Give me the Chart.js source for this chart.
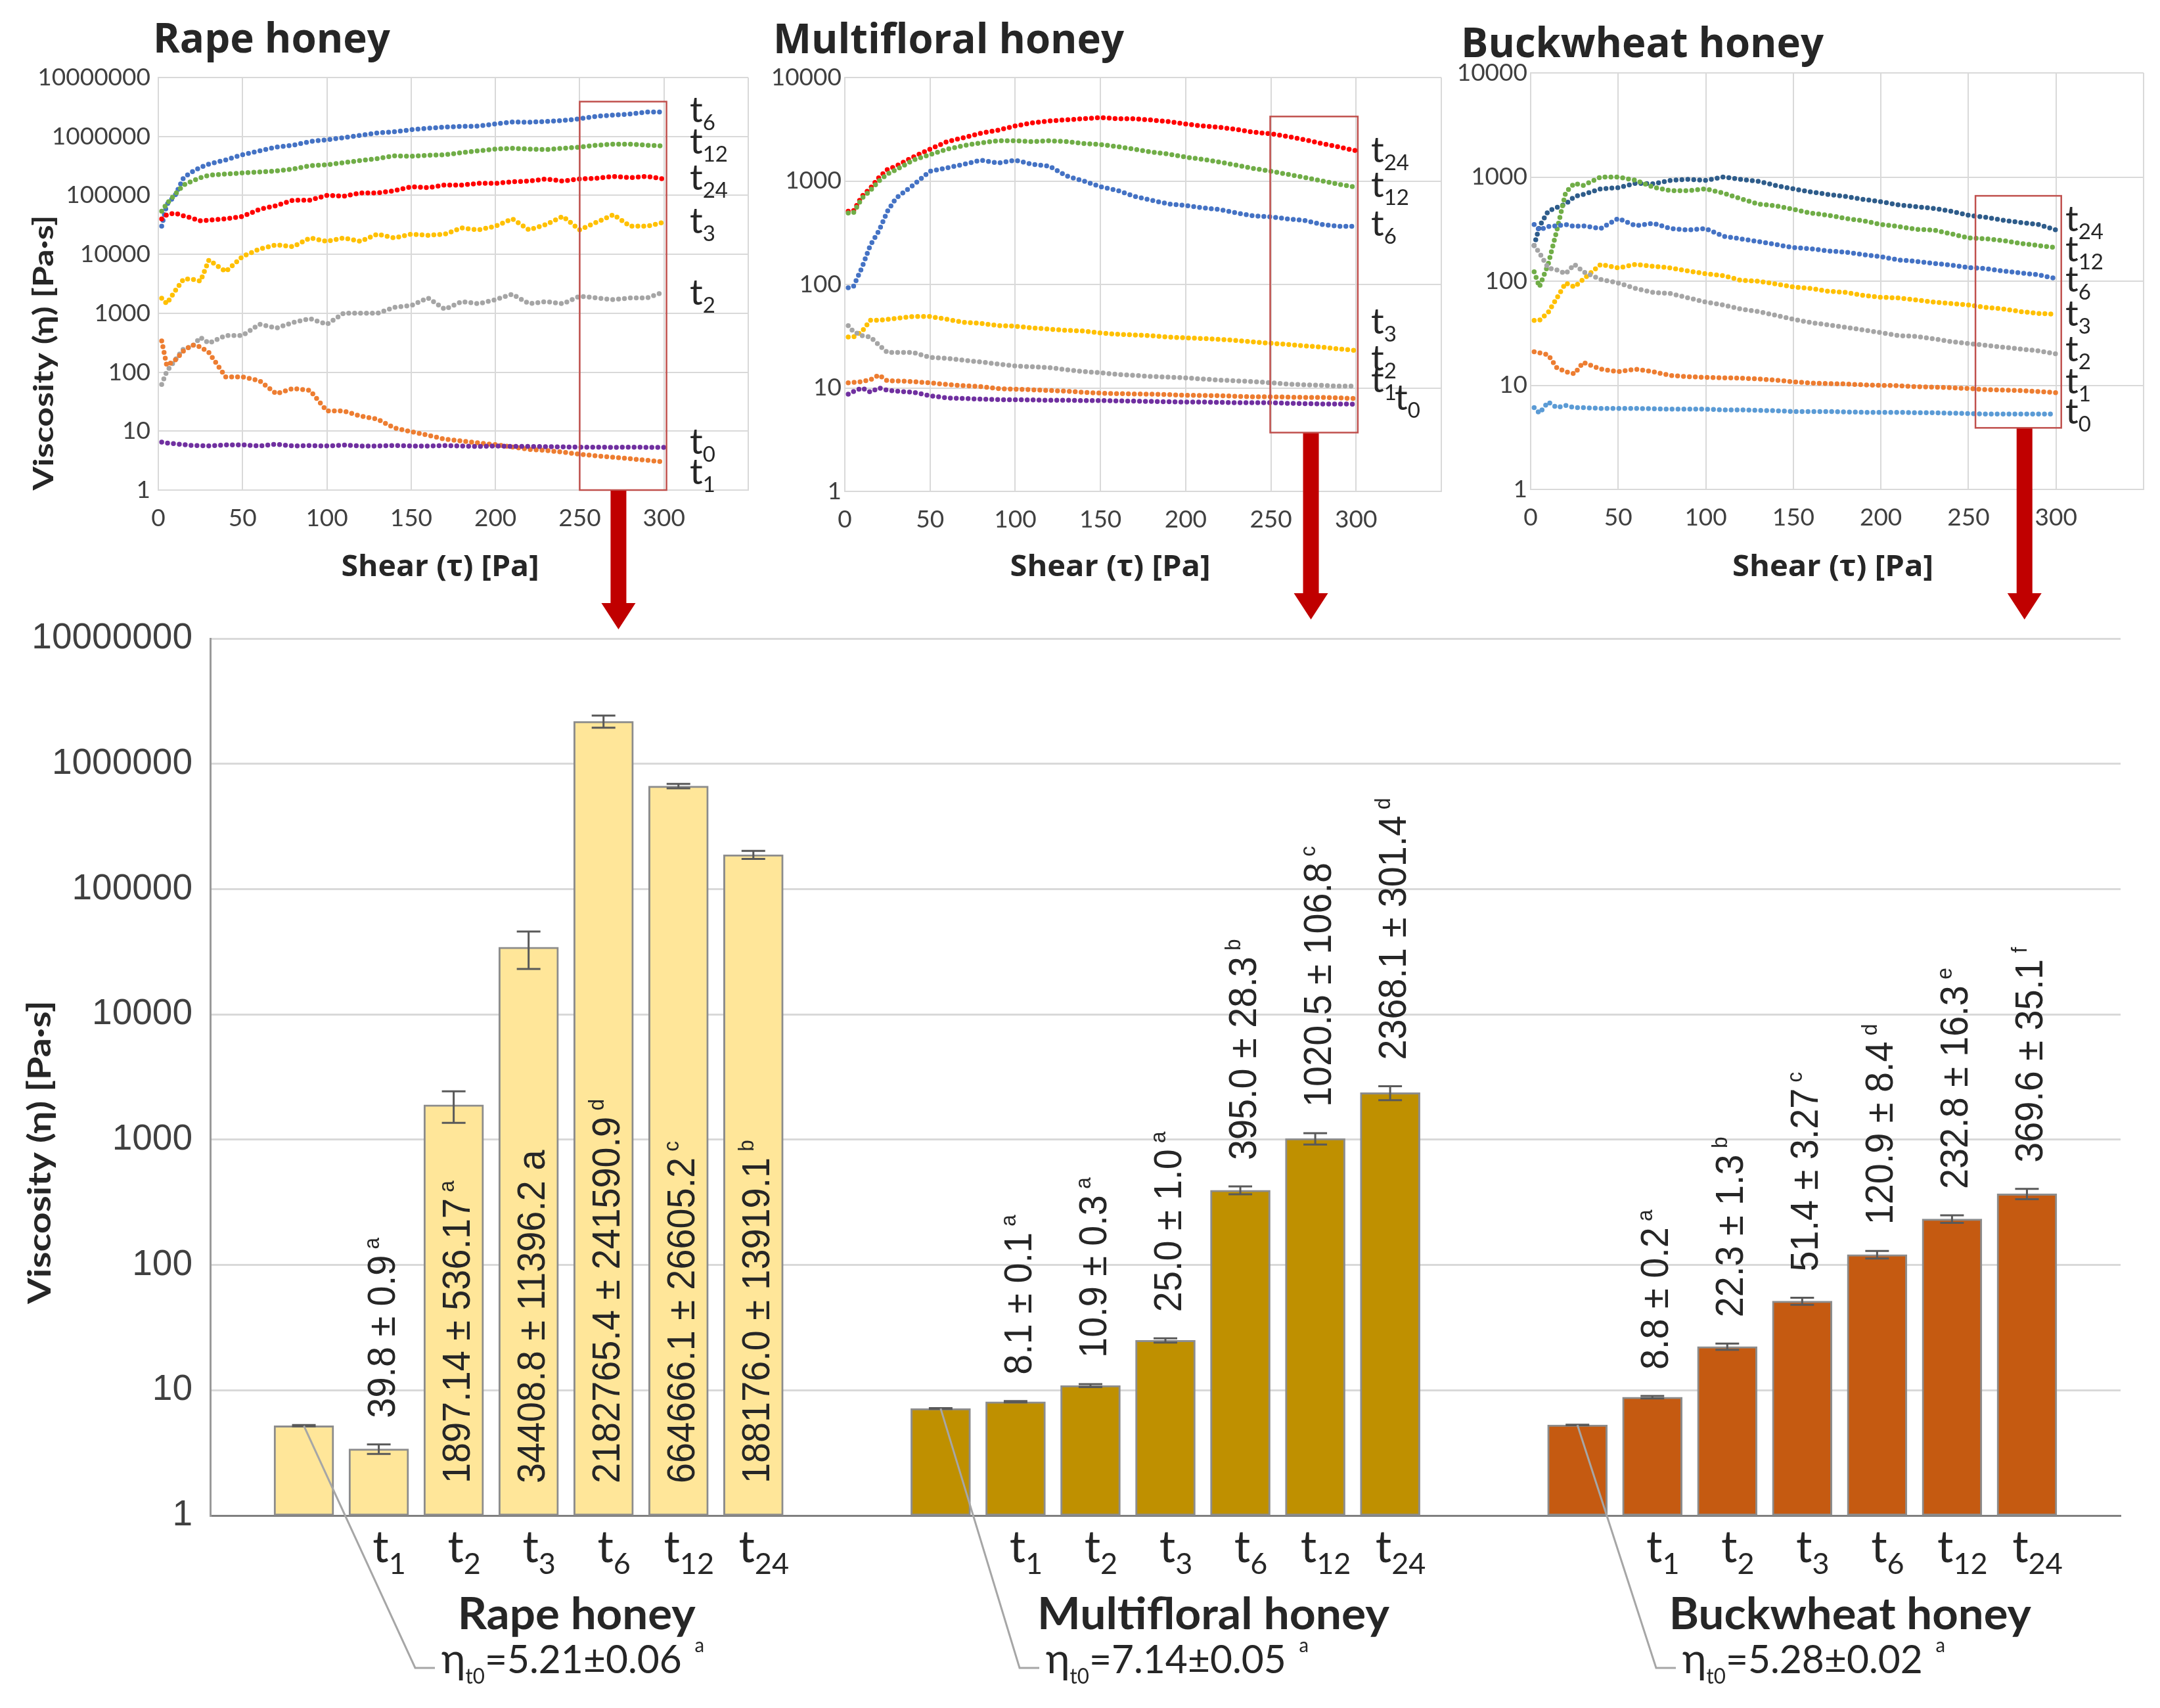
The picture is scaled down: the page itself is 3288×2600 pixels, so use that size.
<!DOCTYPE html>
<html><head><meta charset="utf-8">
<script src="https://cdn.jsdelivr.net/npm/chart.js@4.4.1/dist/chart.umd.min.js"></script>
<style>
html,body{margin:0;padding:0;background:#fff;}
#wrap{position:relative;width:3288px;height:2600px;overflow:hidden;background:#fff;}
canvas{position:absolute;}
</style></head>
<body><div id="wrap">
<canvas id="cBar" width="3288" height="1688" style="left:0px;top:912px;width:3288px;height:1688px"></canvas>
<canvas id="cRape" width="1160" height="970" style="left:0px;top:0px;width:1160px;height:970px"></canvas>
<canvas id="cMulti" width="1055" height="970" style="left:1160px;top:0px;width:1055px;height:970px"></canvas>
<canvas id="cBuck" width="1093" height="970" style="left:2195px;top:0px;width:1093px;height:970px"></canvas>
</div>
<script>
// ---------------- DATA ----------------
const shear = [2,5,10,15,20,25,30,40,50,60,70,80,90,100,110,120,130,140,150,160,170,180,190,200,210,220,230,240,250,260,270,280,290,300];
const shearTicks = [0,50,100,150,200,250,300,350];
const rapeTicks = [1,10,100,1000,10000,100000,1000000,10000000];
const multiTicks = [1,10,100,1000,10000];
const buckTicks = [1,10,100,1000,10000];

// Rape honey viscosity curves
const rape_t6 = [3.0e4,7.0e4,1.0e5,2.0e5,2.5e5,3.0e5,3.4e5,4.0e5,4.9e5,5.7e5,6.6e5,7.1e5,8.2e5,8.8e5,9.5e5,1.05e6,1.15e6,1.2e6,1.3e6,1.38e6,1.44e6,1.48e6,1.5e6,1.63e6,1.76e6,1.74e6,1.8e6,1.86e6,2.0e6,2.2e6,2.3e6,2.4e6,2.6e6,2.6e6];
const rape_t12 = [5.4e4,7.2e4,1.05e5,1.5e5,1.75e5,2.0e5,2.2e5,2.3e5,2.4e5,2.5e5,2.6e5,2.8e5,3.2e5,3.3e5,3.6e5,3.9e5,4.2e5,4.7e5,4.6e5,4.8e5,4.9e5,5.3e5,5.7e5,6.1e5,6.3e5,6.1e5,6.0e5,6.3e5,6.6e5,7.1e5,7.4e5,7.4e5,7.1e5,6.9e5];
const rape_t24 = [4.0e4,4.7e4,5.0e4,4.5e4,4.1e4,3.7e4,3.8e4,4.0e4,4.4e4,5.8e4,6.7e4,8.3e4,8.3e4,1.0e5,9.7e4,1.1e5,1.1e5,1.2e5,1.4e5,1.35e5,1.5e5,1.5e5,1.6e5,1.6e5,1.7e5,1.75e5,1.9e5,1.75e5,1.9e5,1.95e5,2.1e5,2.0e5,2.1e5,1.9e5];
const rape_t3 = [1800,1450,2400,3800,3800,3500,8000,5100,9200,12300,14500,13500,19000,16600,19000,16600,22000,19000,22000,21000,22000,28000,26000,30000,40000,26000,32000,44000,26000,35000,47000,30000,30000,35000];
const rape_t2 = [62,103,160,250,270,390,310,420,420,650,560,700,810,650,1000,1000,1000,1260,1350,1820,1170,1580,1450,1700,2100,1450,1580,1450,1950,1820,1700,1820,1820,2300];
const rape_t1 = [340,130,160,230,290,270,215,83,83,72,43,53,49,22,22,18,16,11.3,9.8,8.5,7.3,6.8,6.3,5.9,5.4,4.9,4.7,4.4,4.06,3.8,3.6,3.4,3.2,3.0];
const rape_t0 = [6.5,6.3,6.1,5.9,5.7,5.7,5.6,5.85,5.85,5.6,6.0,5.6,5.7,5.6,5.8,5.6,5.6,5.7,5.6,5.6,5.7,5.6,5.5,5.6,5.5,5.5,5.45,5.4,5.35,5.35,5.3,5.35,5.3,5.3];

// Multifloral honey viscosity curves
const multi_t24 = [510,510,710,850,1080,1290,1390,1700,2030,2400,2630,2900,3100,3400,3650,3800,3900,4000,4100,4000,4000,3880,3750,3550,3400,3300,3150,2960,2860,2690,2500,2300,2130,1960];
const multi_t12 = [490,490,680,810,1000,1170,1280,1590,1800,2030,2200,2340,2450,2450,2400,2450,2400,2300,2250,2150,2030,1900,1820,1700,1620,1520,1420,1320,1240,1160,1080,1000,930,870];
const multi_t6 = [93,95,145,240,330,510,680,910,1240,1340,1450,1590,1490,1590,1450,1390,1120,1000,880,810,710,650,600,580,550,530,490,460,450,430,415,380,365,365];
const multi_t3 = [31,31,35,45,45,46,47,49,49,46,43,42,40,39.5,38,37,36,35.5,34,33,32.5,32,31,30.5,30,29.5,28.7,27.8,27,26.3,25.5,24.8,23.8,23];
const multi_t2 = [40,35,32,31,26,22,22,22,19.7,19.3,18.5,17.8,17,16.3,16,15.7,15,14.4,14,13.5,13.2,12.9,12.7,12.5,12.2,11.9,11.7,11.5,11.2,10.9,10.7,10.6,10.4,10.4];
const multi_t1 = [11.2,11.3,11.5,12,13.3,11.7,11.7,11.5,11.2,10.8,10.5,10.3,9.85,9.7,9.6,9.45,9.3,9.07,8.9,8.8,8.75,8.7,8.6,8.5,8.45,8.4,8.3,8.2,8.2,8.15,8.1,8.1,8.0,7.9];
const multi_t0 = [8.7,9.2,10,9.1,10,9.5,9.3,9.1,8.4,8.0,7.9,7.8,7.7,7.7,7.65,7.6,7.6,7.55,7.55,7.5,7.45,7.4,7.35,7.3,7.3,7.25,7.2,7.2,7.2,7.1,7.05,7.0,7.0,6.95];

// Buckwheat honey viscosity curves
const buck_t24 = [220,335,470,510,550,650,680,770,790,870,860,930,950,930,1000,950,910,830,770,720,680,650,610,580,540,520,500,470,430,410,385,365,350,310];
const buck_t12 = [123,88,145,310,710,870,830,1000,1000,930,800,740,740,770,700,620,550,530,490,450,430,400,380,350,335,315,310,285,260,255,245,230,220,210];
const buck_t6 = [350,310,335,340,350,335,340,320,400,340,360,320,310,320,270,255,240,225,210,205,195,190,180,172,160,155,148,143,135,132,125,120,115,106];
const buck_t3 = [42,42,50,69,96,88,104,145,134,145,139,134,125,118,113,102,100,94,88,85,80,78,73,70,69,66,63,61,59,56,54,51,49,48];
const buck_t2 = [220,187,134,128,118,145,123,104,96,85,78,76,69,63,59,54,51,47,43,40,38,36,34,32,30,29.5,28,26.3,25.2,24.2,23.2,22.3,21.4,20];
const buck_t1 = [21,20.5,19.6,14.7,13.5,12.9,16.6,14.3,13.5,14.3,13.5,12.4,12.1,11.9,11.8,11.7,11.5,11.2,10.8,10.5,10.4,10.3,10.1,10,9.9,9.7,9.6,9.5,9.3,9.1,9.0,8.9,8.7,8.5];
const buck_t0 = [6.1,5.4,6.9,6.1,6.4,6.1,6.1,6.0,6.0,6.0,5.95,5.9,5.9,5.9,5.8,5.8,5.75,5.7,5.6,5.6,5.6,5.55,5.5,5.5,5.5,5.45,5.45,5.4,5.35,5.3,5.3,5.3,5.3,5.3];

// Bar chart (mean viscosity at t0..t24)
const timeKeys = ['0','1','2','3','6','12','24'];
const groupNames = ['Rape honey','Multifloral honey','Buckwheat honey'];
const rapeMean = [5.21,3.4,1897.14,34408.8,2182765.4,664666.1,188176.0];
const rapeSD = [0.06,0.3,536.17,11396.2,241590.9,26605.2,13919.1];
const multiMean = [7.14,8.1,10.9,25.0,395.0,1020.5,2368.1];
const multiSD = [0.05,0.1,0.3,1.0,28.3,106.8,301.4];
const buckMean = [5.28,8.8,22.3,51.4,120.9,232.8,369.6];
const buckSD = [0.02,0.2,1.3,3.27,8.4,16.3,35.1];
const rapeText = ['','39.8 ± 0.9','1897.14 ± 536.17','34408.8 ± 11396.2 a','2182765.4 ± 241590.9','664666.1 ± 26605.2','188176.0 ± 13919.1'];
const rapeLetter = ['a','a','a','','d','c','b'];
const multiText = ['','8.1 ± 0.1','10.9 ± 0.3','25.0 ± 1.0','395.0 ± 28.3','1020.5 ± 106.8','2368.1 ± 301.4'];
const multiLetter = ['a','a','a','a','b','c','d'];
const buckText = ['','8.8 ± 0.2','22.3 ± 1.3','51.4 ± 3.27','120.9 ± 8.4','232.8 ± 16.3','369.6 ± 35.1'];
const buckLetter = ['a','a','b','c','d','e','f'];
const etaText = ['5.21±0.06','7.14±0.05','5.28±0.02'];
const barTicks = [1,10,100,1000,10000,100000,1000000,10000000];

// ---------------- HELPERS ----------------
const FAM_TOP = "Lato, 'Open Sans', sans-serif";
const FAM_TITLE = "'Open Sans', Lato, sans-serif";
const FAM_BAR = "'Liberation Sans', Arial, sans-serif";
const TXT = '#262626';
function F(size, fam, w){ return (w || 'normal') + ' ' + size + 'px ' + fam; }
function richWidth(ctx, parts){
  let w = 0;
  for (const p of parts){ ctx.font = p.font; w += (p.pre || 0) + ctx.measureText(p.text).width; }
  return w;
}
function drawRich(ctx, x, y, parts, opt){
  opt = opt || {};
  ctx.save();
  ctx.translate(x, y);
  if (opt.rotate) ctx.rotate(opt.rotate);
  const w = richWidth(ctx, parts);
  let s = opt.width ? opt.width / w : (opt.sx || 1);
  ctx.scale(s, 1);
  let cx = opt.align === 'center' ? -w / 2 : (opt.align === 'right' ? -w : 0);
  ctx.textAlign = 'left'; ctx.textBaseline = 'alphabetic';
  ctx.fillStyle = opt.color || TXT;
  for (const p of parts){
    ctx.font = p.font;
    cx += (p.pre || 0);
    ctx.fillText(p.text, cx, (p.dy || 0) + (opt.dy || 0));
    cx += ctx.measureText(p.text).width;
  }
  ctx.restore();
}

// ---------------- TOP SCATTER CHARTS ----------------
function makeTop(id, cfg){
  const datasets = cfg.series.map(s => ({
    label: 't' + s.key,
    data: shear.map((x, i) => ({x: x, y: s.values[i]})),
    borderColor: s.color, backgroundColor: s.color,
    borderWidth: 7.5, borderDash: [0, 9], borderCapStyle: 'round', borderJoinStyle: 'round',
    pointRadius: 0, tension: 0, fill: false
  }));
  const deco = {
    id: 'deco' + id,
    afterDraw(chart){
      const ctx = chart.ctx, xs = chart.scales.x, ys = chart.scales.y, L = cfg.left;
      drawRich(ctx, cfg.title.x - L, cfg.title.y, [{text: cfg.title.text, font: F(62, FAM_TITLE, 'bold')}], {width: cfg.title.w});
      drawRich(ctx, cfg.xTitle.x - L, cfg.xTitle.y, [{text: 'Shear (τ) [Pa]', font: F(44, FAM_TITLE, 'bold')}], {align: 'center', width: cfg.xTitle.w});
      if (cfg.yTitle){
        drawRich(ctx, cfg.yTitle.x - L, cfg.yTitle.y, [{text: 'Viscosity (η) [Pa·s]', font: F(42, FAM_TOP, 'bold')}],
          {align: 'center', rotate: -Math.PI / 2, width: cfg.yTitle.w, dy: 15});
      }
      cfg.tags.forEach(t => {
        drawRich(ctx, t[1] - L, t[2], [{text: 't', font: F(55, FAM_TOP)}, {text: t[0], font: F(33, FAM_TOP), dy: 12}], {color: '#262626'});
      });
      const b = cfg.box;
      const bx0 = xs.getPixelForValue(b.x0), bx1 = xs.getPixelForValue(b.x1);
      const by0 = ys.getPixelForValue(b.y0), by1 = ys.getPixelForValue(b.y1);
      ctx.save();
      ctx.strokeStyle = '#C0504D'; ctx.lineWidth = 2.5;
      ctx.strokeRect(bx0, by1, bx1 - bx0, by0 - by1);
      const ax = xs.getPixelForValue(cfg.arrow.x), tip = cfg.arrow.tip, top = by0 + 1;
      ctx.fillStyle = '#C00000';
      ctx.beginPath();
      ctx.moveTo(ax - 12, top); ctx.lineTo(ax + 12, top); ctx.lineTo(ax + 12, tip - 40);
      ctx.lineTo(ax + 26, tip - 40); ctx.lineTo(ax, tip); ctx.lineTo(ax - 26, tip - 40);
      ctx.lineTo(ax - 12, tip - 40); ctx.closePath(); ctx.fill();
      ctx.restore();
    }
  };
  return new Chart(document.getElementById(id), {
    type: 'line',
    data: {datasets},
    options: {
      responsive: false, animation: false, devicePixelRatio: 1,
      layout: {padding: cfg.padding},
      plugins: {legend: {display: false}, tooltip: {enabled: false}, title: {display: false}},
      scales: {
        x: {type: 'linear', min: 0, max: 350,
          afterBuildTicks: a => { a.ticks = shearTicks.map(v => ({value: v})); },
          afterFit: a => { a.height = 150; },
          ticks: {padding: 21, maxRotation: 0, autoSkip: false, font: {family: FAM_TOP, size: 37}, color: '#404040',
            callback: v => (v <= 300 ? String(v) : '')},
          grid: {color: '#d9d9d9', lineWidth: 2, drawTicks: false},
          border: {color: '#d9d9d9', width: 2}},
        y: {type: 'logarithmic', min: 1, max: cfg.yTicks[cfg.yTicks.length - 1],
          afterBuildTicks: a => { a.ticks = cfg.yTicks.map(v => ({value: v})); },
          afterFit: a => { a.width = cfg.yWidth; },
          ticks: {padding: cfg.yPad, autoSkip: false, font: {family: FAM_TOP, size: 37}, color: '#404040',
            callback: v => String(v)},
          grid: {color: '#d9d9d9', lineWidth: 2, drawTicks: false},
          border: {color: '#d9d9d9', width: 2}}
      }
    },
    plugins: [deco]
  });
}

makeTop('cRape', {
  left: 0, yWidth: 241, yPad: 12, yTicks: rapeTicks,
  padding: {left: 0, top: 118, right: 0, bottom: 74},
  series: [
    {key: '0', values: rape_t0, color: '#7030A0'},
    {key: '1', values: rape_t1, color: '#ED7D31'},
    {key: '2', values: rape_t2, color: '#A5A5A5'},
    {key: '3', values: rape_t3, color: '#FFC000'},
    {key: '24', values: rape_t24, color: '#FF0000'},
    {key: '12', values: rape_t12, color: '#70AD47'},
    {key: '6', values: rape_t6, color: '#4472C4'}
  ],
  title: {text: 'Rape honey', x: 233, y: 80, w: 361},
  xTitle: {x: 670, y: 877, w: 301},
  yTitle: {x: 66, y: 537, w: 419},
  tags: [['6', 1050, 186], ['12', 1050, 234], ['24', 1050, 289], ['3', 1050, 355], ['2', 1050, 464], ['0', 1050, 691], ['1', 1050, 737]],
  box: {x0: 250, x1: 301.5, y0: 1, y1: 3.9e6},
  arrow: {x: 273, tip: 958}
});

makeTop('cMulti', {
  left: 1160, yWidth: 126, yPad: 5, yTicks: multiTicks,
  padding: {left: 0, top: 118, right: 5, bottom: 72},
  series: [
    {key: '0', values: multi_t0, color: '#7030A0'},
    {key: '1', values: multi_t1, color: '#ED7D31'},
    {key: '2', values: multi_t2, color: '#A5A5A5'},
    {key: '3', values: multi_t3, color: '#FFC000'},
    {key: '6', values: multi_t6, color: '#4472C4'},
    {key: '12', values: multi_t12, color: '#70AD47'},
    {key: '24', values: multi_t24, color: '#FF0000'}
  ],
  title: {text: 'Multifloral honey', x: 1177, y: 81, w: 534},
  xTitle: {x: 1690, y: 877, w: 305},
  yTitle: null,
  tags: [['24', 2087, 247], ['12', 2087, 300], ['6', 2087, 359], ['3', 2087, 508], ['2', 2087, 564], ['1', 2087, 597], ['0', 2123, 624]],
  box: {x0: 249.6, x1: 301, y0: 3.7, y1: 4200},
  arrow: {x: 273.5, tip: 943}
});

makeTop('cBuck', {
  left: 2195, yWidth: 135, yPad: 5, yTicks: buckTicks,
  padding: {left: 0, top: 111, right: 25, bottom: 75},
  series: [
    {key: '0', values: buck_t0, color: '#5B9BD5'},
    {key: '1', values: buck_t1, color: '#ED7D31'},
    {key: '2', values: buck_t2, color: '#A5A5A5'},
    {key: '3', values: buck_t3, color: '#FFC000'},
    {key: '6', values: buck_t6, color: '#4472C4'},
    {key: '12', values: buck_t12, color: '#70AD47'},
    {key: '24', values: buck_t24, color: '#2E5C8A'}
  ],
  title: {text: 'Buckwheat honey', x: 2224, y: 87, w: 552},
  xTitle: {x: 2790, y: 877, w: 306},
  yTitle: null,
  tags: [['24', 3144, 352], ['12', 3144, 398], ['6', 3144, 444], ['3', 3144, 496], ['2', 3144, 550], ['1', 3144, 599], ['0', 3144, 645]],
  box: {x0: 254, x1: 303, y0: 3.9, y1: 660},
  arrow: {x: 282, tip: 943}
});

// ---------------- BAR CHART ----------------
const slotLabels = [];
const slotOf = [];
function pushEmpty(n){ for (let i = 0; i < n; i++) slotLabels.push(''); }
pushEmpty(2);
groupNames.forEach((g, gi) => {
  slotOf[gi] = [];
  timeKeys.forEach((t, ti) => {
    if (ti > 0) pushEmpty(1);
    slotOf[gi].push(slotLabels.length);
    slotLabels.push(g + ' t' + t);
  });
  pushEmpty(gi < groupNames.length - 1 ? 4 : 2);
});
const barMeans = [rapeMean, multiMean, buckMean];
const barSDs = [rapeSD, multiSD, buckSD];
const barTexts = [rapeText, multiText, buckText];
const barLetters = [rapeLetter, multiLetter, buckLetter];
const barFill = ['#FFE699', '#BF9000', '#C55A11'];
const insideLabel = [[false, false, true, true, true, true, true], [false, false, false, false, false, false, false], [false, false, false, false, false, false, false]];
const etaStartX = [672, 1592, 2561];
const titleWidth = [362, 536, 551];
const BAR_TOP = 912;

const barDatasets = groupNames.map((g, gi) => {
  const d = slotLabels.map(() => null);
  slotOf[gi].forEach((slot, ti) => { d[slot] = barMeans[gi][ti]; });
  return {label: g, data: d, backgroundColor: barFill[gi], borderColor: '#8c8c8c', borderWidth: 3,
    borderSkipped: false, barThickness: 91, grouped: false};
});

const barDeco = {
  id: 'barDeco',
  afterDatasetsDraw(chart){
    const ctx = chart.ctx, xs = chart.scales.x, ys = chart.scales.y;
    ctx.save();
    groupNames.forEach((g, gi) => {
      const mean = barMeans[gi], sd = barSDs[gi];
      slotOf[gi].forEach((slot, ti) => {
        const cx = xs.getPixelForValue(slot);
        const yHi = ys.getPixelForValue(mean[ti] + sd[ti]);
        const yLo = ys.getPixelForValue(Math.max(mean[ti] - sd[ti], 1));
        ctx.strokeStyle = '#595959'; ctx.lineWidth = 3;
        ctx.beginPath();
        ctx.moveTo(cx, yHi); ctx.lineTo(cx, yLo);
        ctx.moveTo(cx - 18, yHi); ctx.lineTo(cx + 18, yHi);
        ctx.moveTo(cx - 18, yLo); ctx.lineTo(cx + 18, yLo);
        ctx.stroke();
        if (ti === 0) return;
        const start = insideLabel[gi][ti] ? ys.bottom - 49 : yHi - 40;
        const parts = [{text: barTexts[gi][ti], font: F(60, FAM_BAR)}];
        if (barLetters[gi][ti]) parts.push({text: barLetters[gi][ti], font: F(34, FAM_BAR), dy: -24, pre: 10});
        drawRich(ctx, cx + 3, start, parts, {rotate: -Math.PI / 2, dy: 21, sx: 0.93});
      });
    });
    ctx.restore();
  },
  afterDraw(chart){
    const ctx = chart.ctx, xs = chart.scales.x, ys = chart.scales.y;
    ctx.save();
    groupNames.forEach((g, gi) => {
      // time labels
      slotOf[gi].forEach((slot, ti) => {
        if (ti === 0) return;
        const cx = xs.getPixelForValue(slot);
        drawRich(ctx, cx + 16, 2378 - BAR_TOP, [{text: 't', font: F(68, FAM_TOP)}, {text: timeKeys[ti], font: F(45, FAM_TOP), dy: 18}], {align: 'center'});
      });
      // group title
      const c1 = xs.getPixelForValue(slotOf[gi][1]), c6 = xs.getPixelForValue(slotOf[gi][6]);
      drawRich(ctx, (c1 + c6) / 2 + 16, 2480 - BAR_TOP, [{text: g, font: F(67, FAM_TOP, 'bold')}], {align: 'center', width: titleWidth[gi]});
      // eta leader line + label
      const c0 = xs.getPixelForValue(slotOf[gi][0]);
      const y0 = ys.getPixelForValue(barMeans[gi][0]);
      const ex = etaStartX[gi], eb = 2547 - BAR_TOP;
      ctx.strokeStyle = '#a6a6a6'; ctx.lineWidth = 3;
      ctx.beginPath(); ctx.moveTo(c0, y0); ctx.lineTo(ex - 40, eb - 8); ctx.lineTo(ex - 10, eb - 8); ctx.stroke();
      drawRich(ctx, ex, eb, [
        {text: 'η', font: F(64, FAM_TOP)},
        {text: 't0', font: F(32, FAM_TOP), dy: 16},
        {text: '=' + etaText[gi], font: F(60, FAM_TOP)},
        {text: 'a', font: F(30, FAM_TOP), dy: -32, pre: 20}
      ], {width: 400});
    });
    // y title
    drawRich(ctx, 60, 1754 - BAR_TOP, [{text: 'Viscosity (η) [Pa·s]', font: F(48, FAM_TOP, 'bold')}], {align: 'center', rotate: -Math.PI / 2, width: 462, dy: 17});
    ctx.restore();
  }
};

new Chart(document.getElementById('cBar'), {
  type: 'bar',
  data: {labels: slotLabels, datasets: barDatasets},
  options: {
    responsive: false, animation: false, devicePixelRatio: 1,
    layout: {padding: {left: 0, top: 13, right: 60, bottom: 1688 - 1395 - 100}},
    plugins: {legend: {display: false}, tooltip: {enabled: false}},
    datasets: {bar: {grouped: false}},
    scales: {
      x: {type: 'category', offset: true,
        afterFit: a => { a.height = 100; },
        ticks: {display: false},
        grid: {display: false, drawTicks: false},
        border: {display: true, color: '#7f7f7f', width: 3}},
      y: {type: 'logarithmic', min: 1, max: 10000000,
        afterBuildTicks: a => { a.ticks = barTicks.map(v => ({value: v})); },
        afterFit: a => { a.width = 320; },
        ticks: {padding: 27, autoSkip: false, font: {family: FAM_BAR, size: 55}, color: '#404040', callback: v => String(v)},
        grid: {color: '#d9d9d9', lineWidth: 3, drawTicks: false},
        border: {display: true, color: '#9a9a9a', width: 3}}
    }
  },
  plugins: [barDeco]
});
</script>
</body></html>
